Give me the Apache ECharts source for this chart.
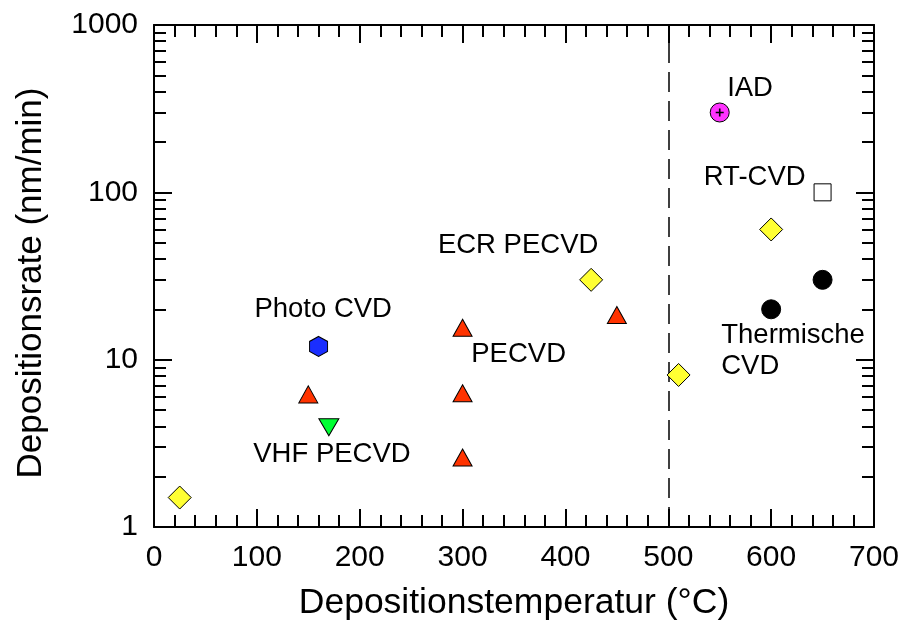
<!DOCTYPE html>
<html>
<head>
<meta charset="utf-8">
<script src="https://cdn.jsdelivr.net/npm/echarts@6/dist/echarts.min.js"></script>
<style>
html,body{margin:0;padding:0;background:#fff;}
#main{width:903px;height:626px;}
</style>
</head>
<body>
<div id="main"></div>
<script>
// ---- data ----
var xTitle = 'Depositionstemperatur (°C)';
var yTitle = 'Depositionsrate (nm/min)';
var yMinorTicks = [2,3,4,5,6,7,8,9,20,30,40,50,60,70,80,90,200,300,400,500,600,700,800,900];
var yellowDiamonds = [[25,1.5],[425,30],[510,8.1],[600,60]];
var redTriangles = [[150,6.2],[300,15.5],[300,6.3],[300,2.6],[450,18.5]];
var greenTriangles = [[170,3.95]];
var blueHexagons = [[160,12]];
var blackCircles = [[600,20],[650,30]];
var openSquares = [[650,100]];
var magentaCircles = [[550,300]];
var dividerX = 500;
var annotations = [
  {name:'IAD', value:[579.5,419]},
  {name:'RT-CVD', value:[584,123]},
  {name:'ECR PECVD', value:[354,48]},
  {name:'Photo CVD', value:[164.5,20.1]},
  {name:'PECVD', value:[354.5,10.8]},
  {name:'VHF PECVD', value:[173,2.72]},
  {name:'Thermische\nCVD', value:[551.5,11.35], left:true}
];

var FONT = 'Liberation Sans, Arial, sans-serif';
var chart = echarts.init(document.getElementById('main'), null, {renderer:'canvas'});

function xAx(pos, labels){
  return {
    type:'value', position:pos, min:0, max:700, interval:100,
    name: labels ? xTitle : '', nameLocation:'middle', nameGap:58,
    nameTextStyle:{fontFamily:FONT, fontSize:35.5, color:'#000'},
    axisLine:{show:true, onZero:false, lineStyle:{color:'#000', width:2}},
    axisTick:{show:true, inside:true, length:18, lineStyle:{color:'#000', width:2}},
    minorTick:{show:true, splitNumber:5, length:12, lineStyle:{color:'#000', width:2}},
    axisLabel:{show:labels, margin:16, fontFamily:FONT, fontSize:30, color:'#000'},
    splitLine:{show:false}, minorSplitLine:{show:false}
  };
}
function yAx(pos, labels, minor){
  var t = {show:true, inside:true, length: minor?12:18, lineStyle:{color:'#000', width:2}};
  if (minor) t.customValues = yMinorTicks;
  return {
    type:'log', logBase:10, position:pos, min:1, max:1000,
    name: labels ? yTitle : '', nameLocation:'middle', nameGap:105, nameRotate:90,
    nameTextStyle:{fontFamily:FONT, fontSize:35, color:'#000', padding:[0,14,0,0]},
    axisLine:{show:!minor, onZero:false, lineStyle:{color:'#000', width:2}},
    axisTick:t,
    axisLabel:{show:labels, margin:16, fontFamily:FONT, fontSize:30, color:'#000',
      formatter:function(v){return String(Math.round(v));}},
    splitLine:{show:false}
  };
}

function sc(name, data, symbol, size, color, extra){
  var s = {
    name:name, type:'scatter', data:data, symbol:symbol, symbolSize:size,
    xAxisIndex:0, yAxisIndex:0, silent:true,
    itemStyle:{color:color, borderColor:'#000', borderWidth:1, opacity:1},
    z:5
  };
  if (extra) for (var k in extra) s[k]=extra[k];
  return s;
}

var option = {
  animation:false,
  backgroundColor:'#fff',
  grid:{left:154, right:29, top:25, bottom:97, containLabel:false},
  xAxis:[xAx('bottom', true), xAx('top', false)],
  yAxis:[yAx('left', true, false), yAx('left', false, true), yAx('right', false, false), yAx('right', false, true)],
  series:[
    {
      type:'line', data:[], xAxisIndex:0, yAxisIndex:0, silent:true,
      markLine:{
        silent:true, symbol:['none','none'], label:{show:false},
        lineStyle:{color:'#000', width:1.5, type:[20,9]},
        data:[{xAxis:dividerX}]
      }
    },
    sc('yellow', yellowDiamonds, 'diamond', [23,23], '#FFFF33'),
    sc('red', redTriangles, 'triangle', [19,17], '#FF3300'),
    sc('green', greenTriangles, 'triangle', [20,17], '#00FF33', {symbolRotate:180}),
    sc('blue', blueHexagons, 'path://M0,-10 L8.66,-5 L8.66,5 L0,10 L-8.66,5 L-8.66,-5 Z', [18,20], '#1A2EFF'),
    sc('black', blackCircles, 'circle', 19, '#000'),
    sc('square', openSquares, 'rect', 17, '#fff'),
    sc('magenta', magentaCircles, 'circle', 19, '#FF33FF'),
    sc('plus', magentaCircles, 'path://M-1,-5 L1,-5 L1,-1 L5,-1 L5,1 L1,1 L1,5 L-1,5 L-1,1 L-5,1 L-5,-1 L-1,-1 Z', 8, '#000', {z:6, itemStyle:{color:'#000', borderWidth:0, opacity:1}}),
    {
      type:'scatter', silent:true, symbol:'circle', symbolSize:1, z:7,
      itemStyle:{color:'rgba(255,255,255,0)', borderWidth:0, opacity:1},
      data: annotations.map(function(a){
        var d = {name:a.name, value:a.value};
        if (a.left) d.label = {align:'left', lineHeight:31};
        return d;
      }),
      label:{show:true, position:'inside', formatter:'{b}', fontFamily:FONT, fontSize:27.5, color:'#000', align:'center', verticalAlign:'middle'}
    }
  ]
};
chart.setOption(option);
</script>
</body>
</html>
